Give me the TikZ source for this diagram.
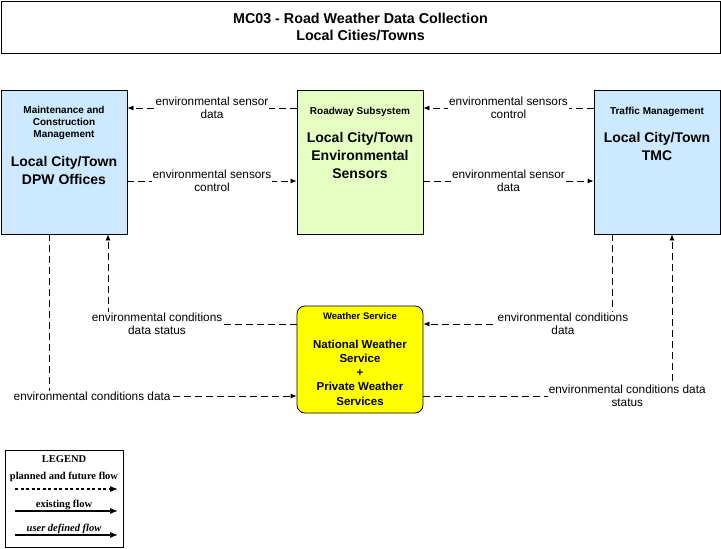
\documentclass[tikz,border=0pt]{standalone}
\usepackage{fontspec}
\setmainfont{Liberation Sans}
\newfontfamily\legfont{Liberation Serif}
\usetikzlibrary{arrows.meta,positioning}
\definecolor{centerblue}{RGB}{204,233,255}
\definecolor{fieldgreen}{RGB}{230,255,194}
\definecolor{wxyellow}{RGB}{255,255,0}

\begin{document}
\begin{tikzpicture}[x=1pt,y=-1pt,>={Latex[length=6pt,width=5pt]},
  every node/.style={inner sep=0pt,align=center},
  sys/.style={draw,line width=0.8pt,minimum width=126pt,minimum height=144pt},
  hdr/.style={font=\bfseries\fontsize{10}{12}\selectfont},
  big/.style={font=\bfseries\fontsize{14}{18}\selectfont},
  lab/.style={fill=white,inner sep=1pt,font=\fontsize{11.8}{13}\selectfont},
  flow/.style={->,dash pattern=on 7pt off 4pt,line width=0.8pt},
  legtxt/.style={font=\legfont\bfseries\fontsize{10.5}{11}\selectfont}]
  \useasboundingbox (0,0) rectangle (721,549);
  % title
  \node[draw,line width=0.8pt,minimum width=719pt,minimum height=52pt,
    font=\bfseries\fontsize{14.3}{17}\selectfont] (title) at (360.5,27)
    {MC03 - Road Weather Data Collection\\Local Cities/Towns};
  % systems
  \node[sys,fill=centerblue] (dpw) at (64,162) {};
  \node[sys,fill=fieldgreen] (ess) at (360,162) {};
  \node[sys,fill=centerblue] (tmc) at (657,162) {};
  \node[draw,line width=0.8pt,fill=wxyellow,rounded corners=8pt,
    minimum width=126pt,minimum height=107pt] (nws) at (360,359.5) {};
  \node[hdr] (dpwh) at (64,123) {Maintenance and\\Construction\\Management};
  \node[big] (dpwn) at (64,170) {Local City/Town\\DPW Offices};
  \node[hdr] (essh) at (360,112) {Roadway Subsystem};
  \node[big] (essn) at (360,155) {Local City/Town\\Environmental\\Sensors};
  \node[hdr] (tmch) at (657,112) {Traffic Management};
  \node[big] (tmcn) at (657,146) {Local City/Town\\TMC};
  \node[font=\bfseries\fontsize{9.5}{9}\selectfont] (nwsh) at (360,316) {Weather Service};
  \node[font=\bfseries\fontsize{11.5}{14.2}\selectfont] (nwsn) at (360,372.5)
    {National Weather\\Service\\+\\Private Weather\\Services};
  % flows
  \draw[flow] (ess.west |- 0,108) -- node[lab]{environmental sensor\\data} (dpw.east |- 0,108);
  \draw[flow] (dpw.east |- 0,181) -- node[lab]{environmental sensors\\control} (ess.west |- 0,181);
  \draw[flow] (tmc.west |- 0,108) -- node[lab]{environmental sensors\\control} (ess.east |- 0,108);
  \draw[flow] (ess.east |- 0,181) -- node[lab]{environmental sensor\\data} (tmc.west |- 0,181);
  \draw[flow] ([xshift=-15pt]dpw.south) |- node[lab,pos=0.587]{environmental conditions data}
    ([yshift=-36.5pt]nws.west);
  \draw[flow] ([yshift=35.5pt]nws.west) -| node[lab,pos=0.37]{environmental conditions\\data status}
    ([xshift=44pt]dpw.south);
  \draw[flow] ([xshift=-45pt]tmc.south) |- node[lab,pos=0.63]{environmental conditions\\data}
    ([yshift=35.5pt]nws.east);
  \draw[flow] ([yshift=-36.5pt]nws.east) -| node[lab,pos=0.41]{environmental conditions data\\status}
    ([xshift=15pt]tmc.south);
  % legend
  \node[draw,line width=0.8pt,minimum width=118pt,minimum height=97pt] (leg) at (64,498.5) {};
  \node[legtxt] (legt) at (64,459) {LEGEND};
  \node[legtxt] (pff) at (64,477) {planned and future flow};
  \node[legtxt] (exf) at (64,505) {existing flow};
  \node[legtxt,font=\legfont\bfseries\itshape\fontsize{10.5}{11}\selectfont] (udf) at (64,529) {user defined flow};
  \coordinate (pfa) at (15,489); \coordinate (pfb) at (118,489);
  \coordinate (exa) at (15,511); \coordinate (exb) at (118,511);
  \coordinate (uda) at (15,535); \coordinate (udb) at (118,535);
  \draw[->,>={Latex[length=8pt,width=6pt]},line width=1.1pt,dash pattern=on 3pt off 2.5pt] (pfa) -- (pfb);
  \draw[->,>={Latex[length=8pt,width=6pt]},line width=1.1pt] (exa) -- (exb);
  \draw[->,>={Latex[length=8pt,width=6pt]},line width=1.1pt] (uda) -- (udb);
\end{tikzpicture}
\end{document}
